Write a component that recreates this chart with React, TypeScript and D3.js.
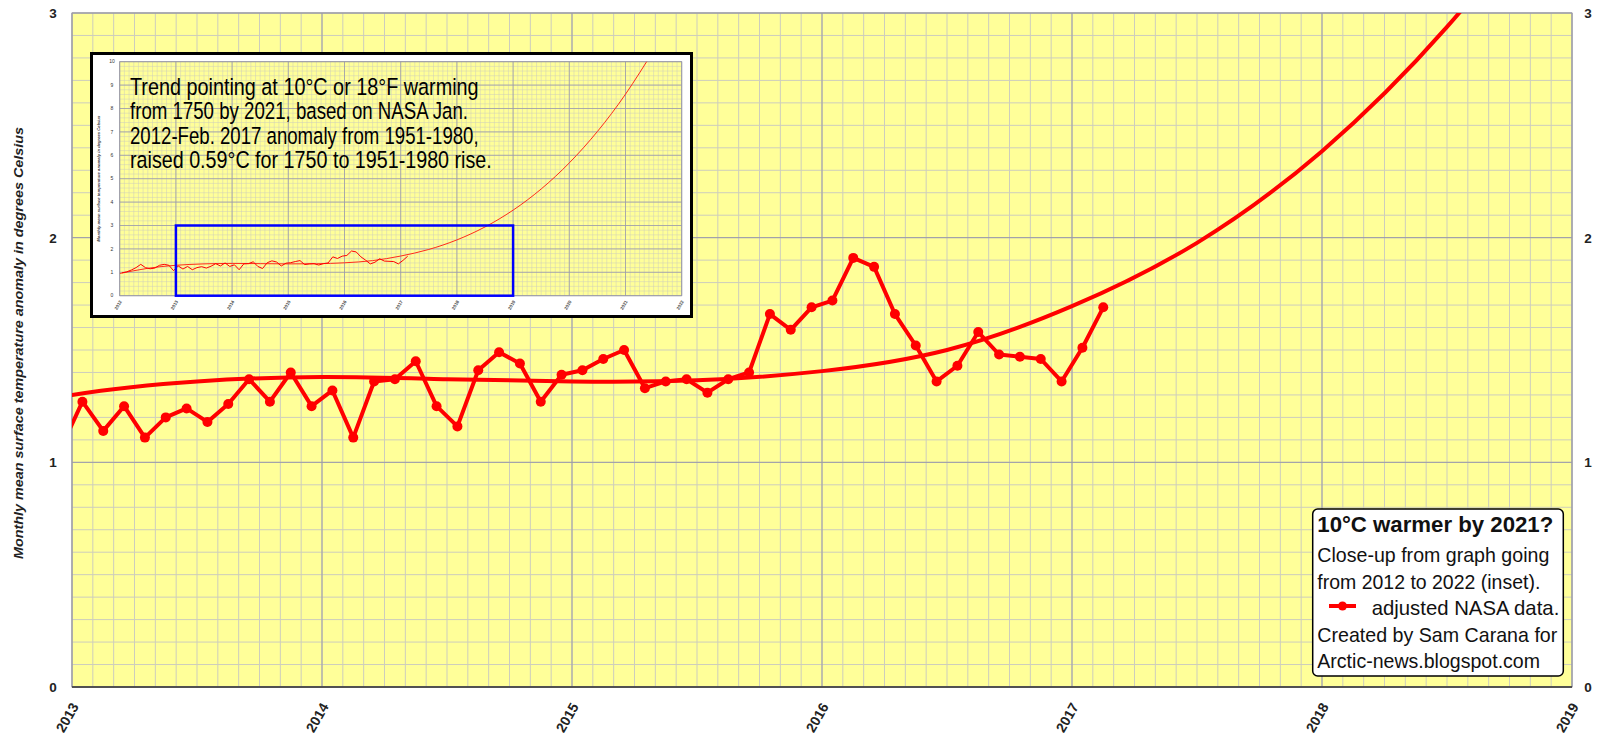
import React from 'react';
import * as d3 from 'd3';

// ---------- DATA ----------
const months = [
  "2012-01","2012-02","2012-03","2012-04","2012-05","2012-06","2012-07","2012-08","2012-09","2012-10","2012-11","2012-12",
  "2013-01","2013-02","2013-03","2013-04","2013-05","2013-06","2013-07","2013-08","2013-09","2013-10","2013-11","2013-12",
  "2014-01","2014-02","2014-03","2014-04","2014-05","2014-06","2014-07","2014-08","2014-09","2014-10","2014-11","2014-12",
  "2015-01","2015-02","2015-03","2015-04","2015-05","2015-06","2015-07","2015-08","2015-09","2015-10","2015-11","2015-12",
  "2016-01","2016-02","2016-03","2016-04","2016-05","2016-06","2016-07","2016-08","2016-09","2016-10","2016-11","2016-12",
  "2017-01","2017-02"
];
const adjustedNasa = [
  0.98, 1.02, 1.10, 1.20, 1.34, 1.20, 1.15, 1.18, 1.30, 1.34, 1.30, 1.07,
  1.27, 1.14, 1.25, 1.11, 1.20, 1.24, 1.18, 1.26, 1.37, 1.27, 1.40, 1.25,
  1.32, 1.11, 1.36, 1.37, 1.45, 1.25, 1.16, 1.41, 1.49, 1.44, 1.27, 1.39,
  1.41, 1.46, 1.50, 1.33, 1.36, 1.37, 1.31, 1.37, 1.40, 1.66, 1.59, 1.69,
  1.72, 1.91, 1.87, 1.66, 1.52, 1.36, 1.43, 1.58, 1.48, 1.47, 1.46, 1.36,
  1.51, 1.69
];
const trendYears = [2012, 2012.5, 2013, 2013.5, 2014, 2014.5, 2015, 2015.5, 2016, 2016.5, 2017, 2017.5, 2018, 2018.5, 2019, 2019.5, 2020, 2020.5, 2021, 2021.5];
const trendValues = [0.95, 1.17, 1.30, 1.36, 1.38, 1.37, 1.36, 1.365, 1.406, 1.50, 1.695, 1.977, 2.385, 2.938, 3.656, 4.561, 5.675, 7.017, 8.611, 10.475];

const xTickYears = [2013, 2014, 2015, 2016, 2017, 2018, 2019];
const yTicks = [0, 1, 2, 3];
const insetXTickYears = [2012, 2013, 2014, 2015, 2016, 2017, 2018, 2019, 2020, 2021, 2022];
const insetYTicks = [0, 1, 2, 3, 4, 5, 6, 7, 8, 9, 10];
const insetBox = { x0: 2013, x1: 2019, y0: 0, y1: 3 };

const yAxisTitle = "Monthly mean surface temperature anomaly in degrees Celsius";
const insetNote = [
  "Trend pointing at 10°C or 18°F warming",
  "from 1750 by 2021, based on NASA Jan.",
  "2012-Feb. 2017 anomaly from 1951-1980,",
  "raised 0.59°C for 1750 to 1951-1980 rise."
];
const legendTitle = "10°C warmer by 2021?";
const legendLines = [
  "Close-up from graph going",
  "from 2012 to 2022 (inset).",
  "adjusted NASA data.",
  "Created by Sam Carana for",
  "Arctic-news.blogspot.com"
];

// ---------- HELPERS ----------
const monthPos = (m: string) => {
  const [y, mo] = m.split('-').map(Number);
  return y + (mo - 0.5) / 12;
};
const series = months.map((m, i) => ({ t: monthPos(m), v: adjustedNasa[i] }));
const trend = trendYears.map((t, i) => ({ t, v: trendValues[i] }));

const FONT = "'Liberation Sans', Arial, Helvetica, sans-serif";
const NARROW = "'Liberation Sans Narrow', 'Arial Narrow', 'Liberation Sans', Arial, sans-serif";
const YELLOW = "#ffff99";
const MINOR = "#cdcdbd";
const MAJOR = "#9a9aa8";
const RED = "#ff0000";

export default function App() {
  // main chart
  const L = 72, R = 1572, T = 13, B = 687;
  const x = d3.scaleLinear().domain([2013, 2019]).range([L, R]);
  const y = d3.scaleLinear().domain([0, 3]).range([B, T]);
  const minorX = d3.range(0, 6 * 12 + 1).map(i => 2013 + i / 12);
  const minorY = d3.range(0, 31).map(i => i / 10);
  const lineMain = d3.line<{ t: number; v: number }>().x(d => x(d.t)).y(d => y(d.v));
  const trendMain = d3.line<{ t: number; v: number }>().x(d => x(d.t)).y(d => y(d.v)).curve(d3.curveNatural);

  // inset chart
  const IL = 119.7, IR = 681.7, IT = 61.7, IB = 295.7;
  const ix = d3.scaleLinear().domain([2012, 2022]).range([IL, IR]);
  const iy = d3.scaleLinear().domain([0, 10]).range([IB, IT]);
  const iMinorX = d3.range(0, 10 * 12 + 1).map(i => 2012 + i / 12);
  const iMinorY = d3.range(0, 51).map(i => i / 5);
  const lineInset = d3.line<{ t: number; v: number }>().x(d => ix(d.t)).y(d => iy(d.v));
  const trendInset = d3.line<{ t: number; v: number }>().x(d => ix(d.t)).y(d => iy(d.v)).curve(d3.curveNatural);

  const insetNoteWidths = [348.6, 338, 348.6, 361.8];
  const legendWidths = [232, 223, 187.6, 240, 222.7];
  const legendBaselines = [562, 588.5, 615, 641.5, 668];

  return (
    <svg width={1600} height={745} style={{ position: 'absolute', left: 0, top: 0, background: '#fff' }}
      xmlns="http://www.w3.org/2000/svg">
      <defs>
        <clipPath id="mainClip"><rect x={L} y={T} width={R - L} height={B - T} /></clipPath>
        <clipPath id="insetClip"><rect x={IL} y={IT} width={IR - IL} height={IB - IT} /></clipPath>
      </defs>

      {/* main plot background & grid */}
      <rect x={L} y={T} width={R - L} height={B - T} fill={YELLOW} />
      {minorX.map((t, i) => (
        <line key={'mx' + i} x1={x(t)} x2={x(t)} y1={T} y2={B} stroke={MINOR} strokeWidth={1} />
      ))}
      {minorY.map((v, i) => (
        <line key={'my' + i} x1={L} x2={R} y1={y(v)} y2={y(v)} stroke={MINOR} strokeWidth={1} />
      ))}
      {xTickYears.map(t => (
        <line key={'Mx' + t} x1={x(t)} x2={x(t)} y1={T} y2={B} stroke={MAJOR} strokeWidth={1} />
      ))}
      {yTicks.map(v => (
        <line key={'My' + v} x1={L} x2={R} y1={y(v)} y2={y(v)} stroke={MAJOR} strokeWidth={1} />
      ))}
      <rect x={L} y={T} width={R - L} height={B - T} fill="none" stroke={MAJOR} strokeWidth={1} />
      <line x1={L} x2={R} y1={B} y2={B} stroke="#333" strokeWidth={1.5} />

      {/* trend & data */}
      <g clipPath="url(#mainClip)">
        <path d={trendMain(trend) || ''} fill="none" stroke={RED} strokeWidth={4} />
        <path d={lineMain(series) || ''} fill="none" stroke={RED} strokeWidth={4} strokeLinejoin="round" />
        {series.map((d, i) => (
          <circle key={'pt' + i} cx={x(d.t)} cy={y(d.v)} r={5} fill={RED} />
        ))}
      </g>

      {/* axis labels */}
      {yTicks.map(v => (
        <g key={'yl' + v}>
          <text x={53} y={y(v)} dy="0.36em" textAnchor="middle" fontFamily={FONT} fontWeight="bold" fontSize={13.5} fill="#222">{v}</text>
          <text x={1588} y={y(v)} dy="0.36em" textAnchor="middle" fontFamily={FONT} fontWeight="bold" fontSize={13.5} fill="#222">{v}</text>
        </g>
      ))}
      {xTickYears.map(t => (
        <text key={'xl' + t} transform={`translate(${x(t) + 3},${B + 17}) rotate(-60)`} textAnchor="end" dy="0.35em"
          fontFamily={FONT} fontWeight="bold" fontSize={14} fill="#222">{t}</text>
      ))}
      <text transform={`translate(23,343) rotate(-90)`} textAnchor="middle" fontFamily={FONT} fontWeight="bold"
        fontStyle="italic" fontSize={13.5} fill="#222" textLength={432} lengthAdjust="spacingAndGlyphs">{yAxisTitle}</text>

      {/* ---------- INSET ---------- */}
      <rect x={91.5} y={53.5} width={600} height={263} fill="#fff" stroke="#000" strokeWidth={3} />
      <rect x={IL} y={IT} width={IR - IL} height={IB - IT} fill={YELLOW} />
      {iMinorX.map((t, i) => (
        <line key={'imx' + i} x1={ix(t)} x2={ix(t)} y1={IT} y2={IB} stroke={MINOR} strokeWidth={0.5} />
      ))}
      {iMinorY.map((v, i) => (
        <line key={'imy' + i} x1={IL} x2={IR} y1={iy(v)} y2={iy(v)} stroke={MINOR} strokeWidth={0.5} />
      ))}
      {insetXTickYears.map(t => (
        <line key={'iMx' + t} x1={ix(t)} x2={ix(t)} y1={IT} y2={IB} stroke={MAJOR} strokeWidth={0.8} />
      ))}
      {insetYTicks.map(v => (
        <line key={'iMy' + v} x1={IL} x2={IR} y1={iy(v)} y2={iy(v)} stroke={MAJOR} strokeWidth={0.8} />
      ))}
      <rect x={IL} y={IT} width={IR - IL} height={IB - IT} fill="none" stroke={MAJOR} strokeWidth={0.8} />
      <g clipPath="url(#insetClip)">
        <path d={trendInset(trend) || ''} fill="none" stroke="#ff2a1a" strokeWidth={1} />
        <path d={lineInset(series) || ''} fill="none" stroke={RED} strokeWidth={1} />
      </g>
      <rect x={ix(insetBox.x0)} y={iy(insetBox.y1)} width={ix(insetBox.x1) - ix(insetBox.x0)}
        height={iy(insetBox.y0) - iy(insetBox.y1)} fill="none" stroke="#0000ff" strokeWidth={2.5} />
      {insetYTicks.map(v => (
        <text key={'iyl' + v} x={112} y={iy(v)} dy="0.35em" textAnchor="middle" fontFamily={FONT} fontSize={5} fill="#333">{v}</text>
      ))}
      {insetXTickYears.map(t => (
        <text key={'ixl' + t} transform={`translate(${ix(t) + 1},${IB + 5}) rotate(-60)`} textAnchor="end" dy="0.35em"
          fontFamily={FONT} fontWeight="bold" fontSize={4.5} fill="#444">{t}</text>
      ))}
      <text transform={`translate(100,${(IT + IB) / 2}) rotate(-90)`} textAnchor="middle" fontFamily={FONT}
        fontWeight="bold" fontStyle="italic" fontSize={4.2} fill="#333">{yAxisTitle}</text>
      {insetNote.map((s, i) => (
        <text key={'note' + i} x={130} y={95 + i * 24.3} fontFamily={NARROW} fontSize={24.5} fill="#000"
          textLength={insetNoteWidths[i]} lengthAdjust="spacingAndGlyphs">{s}</text>
      ))}

      {/* ---------- LEGEND ---------- */}
      <rect x={1312.7} y={509} width={250.6} height={167} rx={5} ry={5} fill="#fff" stroke="#000" strokeWidth={1.5} />
      <text x={1317.3} y={532} fontFamily={NARROW} fontWeight="bold" fontSize={22} fill="#111"
        textLength={236} lengthAdjust="spacingAndGlyphs">{legendTitle}</text>
      {legendLines.map((s, i) => (
        <text key={'lg' + i} x={i === 2 ? 1371.7 : 1317.3} y={legendBaselines[i]} fontFamily={NARROW} fontSize={21} fill="#111"
          textLength={legendWidths[i]} lengthAdjust="spacingAndGlyphs">{s}</text>
      ))}
      <line x1={1329} x2={1356} y1={606} y2={606} stroke={RED} strokeWidth={4} />
      <circle cx={1342.5} cy={606} r={4.5} fill={RED} />
    </svg>
  );
}
